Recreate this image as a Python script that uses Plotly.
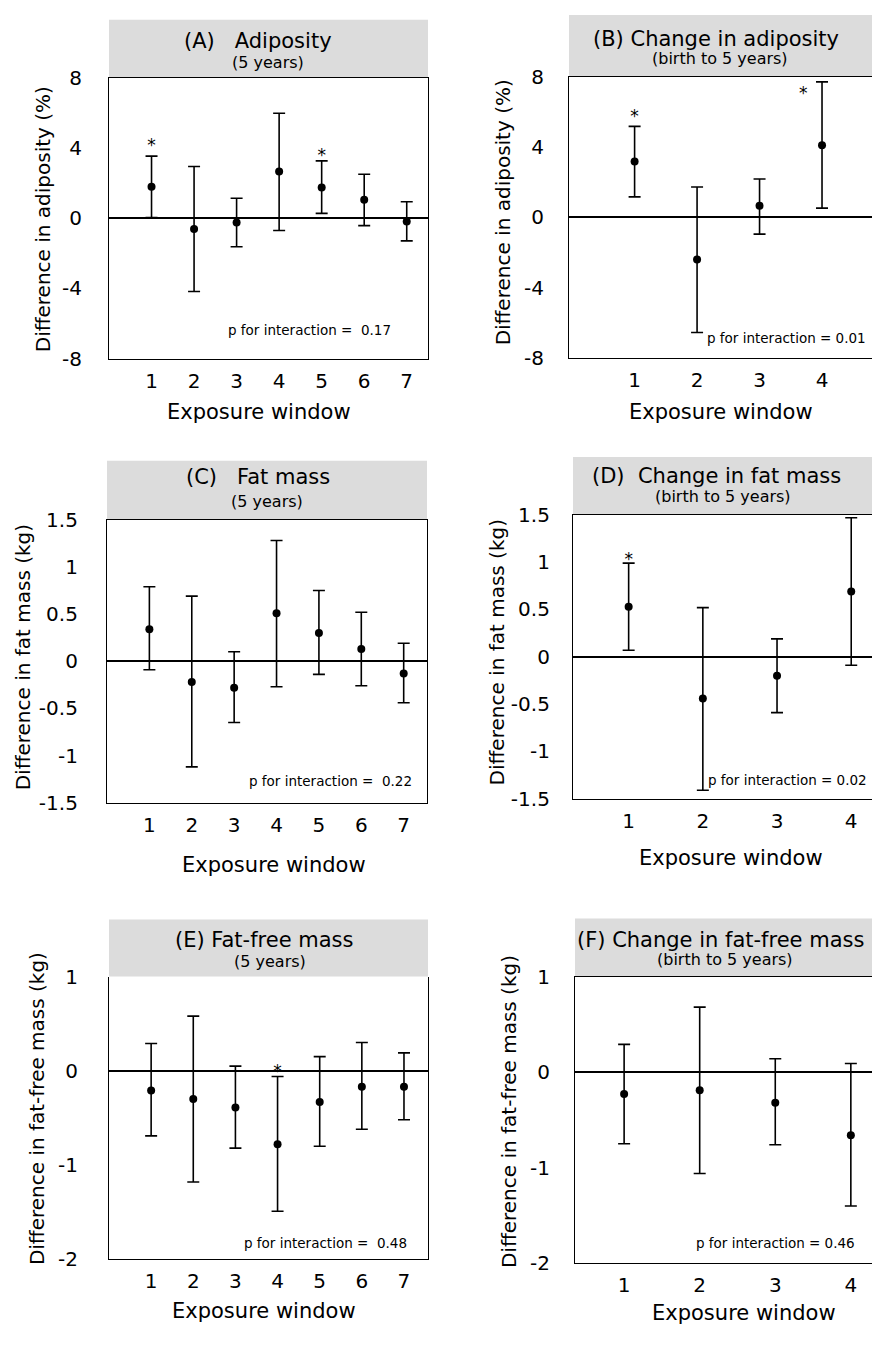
import plotly.graph_objects as go

# ---------------- data ----------------
windows7 = [1, 2, 3, 4, 5, 6, 7]
windows4 = [1, 2, 3, 4]

A_mean = [1.79, -0.61, -0.24, 2.66, 1.75, 1.05, -0.18]
A_low = [0.04, -4.17, -1.62, -0.70, 0.28, -0.42, -1.29]
A_up = [3.54, 2.95, 1.14, 5.98, 3.27, 2.51, 0.94]
A_star_x = [1, 5]
A_star_y = [4.1, 3.5]

B_mean = [3.18, -2.40, 0.65, 4.10]
B_low = [1.16, -6.56, -0.96, 0.52]
B_up = [5.18, 1.72, 2.18, 7.71]
B_star_x = [1, 3.7]
B_star_y = [5.65, 7.0]

C_mean = [0.34, -0.22, -0.28, 0.51, 0.30, 0.13, -0.13]
C_low = [-0.09, -1.12, -0.65, -0.27, -0.14, -0.26, -0.44]
C_up = [0.79, 0.69, 0.10, 1.28, 0.75, 0.52, 0.19]
C_star_x = []
C_star_y = []

D_mean = [0.53, -0.44, -0.20, 0.69]
D_low = [0.07, -1.41, -0.59, -0.09]
D_up = [0.99, 0.52, 0.19, 1.47]
D_star_x = [1]
D_star_y = [1.01]

E_mean = [-0.21, -0.30, -0.39, -0.78, -0.33, -0.17, -0.17]
E_low = [-0.69, -1.18, -0.82, -1.49, -0.80, -0.62, -0.52]
E_up = [0.29, 0.58, 0.05, -0.06, 0.15, 0.30, 0.19]
E_star_x = [4]
E_star_y = [-0.02]

F_mean = [-0.23, -0.19, -0.32, -0.66]
F_low = [-0.75, -1.06, -0.76, -1.40]
F_up = [0.29, 0.68, 0.14, 0.09]
F_star_x = []
F_star_y = []

titles = ["(A)\u00a0\u00a0 Adiposity", "(B) Change in adiposity", "(C)\u00a0\u00a0 Fat mass",
          "(D)\u00a0 Change in fat mass", "(E) Fat-free mass", "(F) Change in fat-free mass"]
subtitles = ["(5 years)", "(birth to 5 years)", "(5 years)", "(birth to 5 years)",
             "(5 years)", "(birth to 5 years)"]
y_titles = ["Difference in adiposity (%)", "Difference in adiposity (%)",
            "Difference in fat mass (kg)", "Difference in fat mass (kg)",
            "Difference in fat-free mass (kg)", "Difference in fat-free mass (kg)"]
x_title = "Exposure window"
p_texts = ["p for interaction =\u00a0 0.17", "p for interaction = 0.01",
           "p for interaction =\u00a0 0.22", "p for interaction = 0.02",
           "p for interaction =\u00a0 0.48", "p for interaction = 0.46"]

ticks_adip = [-8, -4, 0, 4, 8]
ticktext_adip = ["-8", "-4", "0", "4", "8"]
ticks_fat = [-1.5, -1, -0.5, 0, 0.5, 1, 1.5]
ticktext_fat = ["-1.5", "-1", "-0.5", "0", "0.5", "1", "1.5"]
ticks_ffm = [-2, -1, 0, 1]
ticktext_ffm = ["-2", "-1", "0", "1"]

# ---------------- layout geometry (pixels) ----------------
W, H = 872, 1347
def px(v):
    return v / W
def py(v):
    return 1 - v / H

panels = [
    dict(x=windows7, m=A_mean, lo=A_low, hi=A_up, sx=A_star_x, sy=A_star_y,
         box=(109, 428, 67, 353), head=(8, 67), xr=[0, 7.5], yr=[-8, 8],
         tv=ticks_adip, tt=ticktext_adip, right=True, top=True,
         title=(258, 30), sub=(268, 51), ytit=(43, 211), xtit=(259, 407), ptxt=(309, 324), stand=22),
    dict(x=windows4, m=B_mean, lo=B_low, hi=B_up, sx=B_star_x, sy=B_star_y,
         box=(569, 872, 66, 352), head=(3, 66), xr=[-0.05, 4.8], yr=[-8, 8],
         tv=ticks_adip, tt=ticktext_adip, right=False, top=True,
         title=(716, 27), sub=(720, 47), ytit=(503, 204), xtit=(721, 407), ptxt=(786, 332), stand=20),
    dict(x=windows7, m=C_mean, lo=C_low, hi=C_up, sx=C_star_x, sy=C_star_y,
         box=(107, 427, 517, 805), head=(457, 517), xr=[0, 7.55], yr=[-1.5, 1.5],
         tv=ticks_fat, tt=ticktext_fat, right=True, top=True,
         title=(258, 473), sub=(267, 498), ytit=(23, 657), xtit=(274, 868), ptxt=(330, 783), stand=24),
    dict(x=windows4, m=D_mean, lo=D_low, hi=D_up, sx=D_star_x, sy=D_star_y,
         box=(573, 872, 512, 801), head=(453, 512), xr=[0.25, 4.28], yr=[-1.5, 1.5],
         tv=ticks_fat, tt=ticktext_fat, right=False, top=True,
         title=(716, 472), sub=(723, 493), ytit=(497, 652), xtit=(731, 861), ptxt=(787, 782), stand=18),
    dict(x=windows7, m=E_mean, lo=E_low, hi=E_up, sx=E_star_x, sy=E_star_y,
         box=(109, 428, 982, 1270), head=(924, 982), xr=[0, 7.57], yr=[-2, 1],
         tv=ticks_ffm, tt=ticktext_ffm, right=True, top=False,
         title=(264, 945), sub=(270, 967), ytit=(37, 1117), xtit=(264, 1323), ptxt=(325, 1253), stand=26),
    dict(x=windows4, m=F_mean, lo=F_low, hi=F_up, sx=F_star_x, sy=F_star_y,
         box=(575, 872, 982, 1274), head=(923, 982), xr=[0.35, 4.28], yr=[-2, 1],
         tv=ticks_ffm, tt=ticktext_ffm, right=False, top=True,
         title=(720, 945), sub=(725, 965), ytit=(509, 1120), xtit=(744, 1325), ptxt=(775, 1253), stand=20),
]

FONT = "DejaVu Sans"
fig = go.Figure()
shapes = []
annotations = []
layout_axes = {}

for i, p in enumerate(panels, start=1):
    xa = "x" if i == 1 else f"x{i}"
    ya = "y" if i == 1 else f"y{i}"
    xkey = "xaxis" if i == 1 else f"xaxis{i}"
    ykey = "yaxis" if i == 1 else f"yaxis{i}"
    plus = [h - m for h, m in zip(p["hi"], p["m"])]
    minus = [m - l for m, l in zip(p["m"], p["lo"])]
    fig.add_trace(go.Scatter(
        x=p["x"], y=p["m"], mode="markers", xaxis=xa, yaxis=ya, showlegend=False,
        marker=dict(color="black", size=8),
        error_y=dict(type="data", symmetric=False, array=plus, arrayminus=minus,
                     color="black", thickness=1.6, width=6),
    ))
    if p["sx"]:
        fig.add_trace(go.Scatter(
            x=p["sx"], y=p["sy"], mode="text", text=["*"] * len(p["sx"]),
            textfont=dict(family=FONT, size=17, color="black"),
            xaxis=xa, yaxis=ya, showlegend=False, cliponaxis=False))
    x0, x1, y0, y1 = p["box"]
    layout_axes[xkey] = dict(
        domain=[px(x0), min(px(x1), 1.0)], range=p["xr"], anchor=ya,
        tickvals=p["x"], ticktext=[str(v) for v in p["x"]],
        showgrid=False, zeroline=False, showline=True, linecolor="black", linewidth=1.2,
        mirror=p["top"], ticks="", ticklabelstandoff=4,
        tickfont=dict(family=FONT, size=20, color="black"), fixedrange=True)
    layout_axes[ykey] = dict(
        domain=[py(y1), py(y0)], range=p["yr"], anchor=xa,
        tickvals=p["tv"], ticktext=p["tt"],
        showgrid=False, zeroline=True, zerolinecolor="black", zerolinewidth=1.6,
        showline=True, linecolor="black", linewidth=1.2, mirror=p["right"],
        ticks="", ticklabelstandoff=p["stand"],
        tickfont=dict(family=FONT, size=20, color="black"), fixedrange=True)
    # gray header band
    h0, h1 = p["head"]
    shapes.append(dict(type="rect", xref="paper", yref="paper",
                       x0=px(x0), x1=min(px(x1), 1.0), y0=py(h1), y1=py(h0),
                       fillcolor="#dcdcdc", line=dict(width=0), layer="below"))
    annotations.append(dict(text=titles[i - 1], x=px(p["title"][0]), y=py(p["title"][1]),
                            xref="paper", yref="paper", showarrow=False,
                            xanchor="center", yanchor="middle",
                            font=dict(family=FONT, size=21, color="black")))
    annotations.append(dict(text=subtitles[i - 1], x=px(p["sub"][0]), y=py(p["sub"][1]),
                            xref="paper", yref="paper", showarrow=False,
                            xanchor="center", yanchor="middle",
                            font=dict(family=FONT, size=16, color="black")))
    annotations.append(dict(text=y_titles[i - 1], x=px(p["ytit"][0]), y=py(p["ytit"][1]),
                            xref="paper", yref="paper", showarrow=False, textangle=-90,
                            xanchor="center", yanchor="middle",
                            font=dict(family=FONT, size=20, color="black")))
    annotations.append(dict(text=x_title, x=px(p["xtit"][0]), y=py(p["xtit"][1]),
                            xref="paper", yref="paper", showarrow=False,
                            xanchor="center", yanchor="middle",
                            font=dict(family=FONT, size=21, color="black")))
    annotations.append(dict(text=p_texts[i - 1], x=px(p["ptxt"][0]), y=py(p["ptxt"][1]),
                            xref="paper", yref="paper", showarrow=False,
                            xanchor="center", yanchor="middle",
                            font=dict(family=FONT, size=13.5, color="black")))

fig.update_layout(
    width=W, height=H, margin=dict(l=0, r=0, t=0, b=0),
    paper_bgcolor="white", plot_bgcolor="white",
    shapes=shapes, annotations=annotations, showlegend=False,
    **layout_axes,
)

fig.write_html("out.html", config={"displayModeBar": False},
               post_script="document.body.style.margin='0px';document.body.style.overflow='hidden';")
